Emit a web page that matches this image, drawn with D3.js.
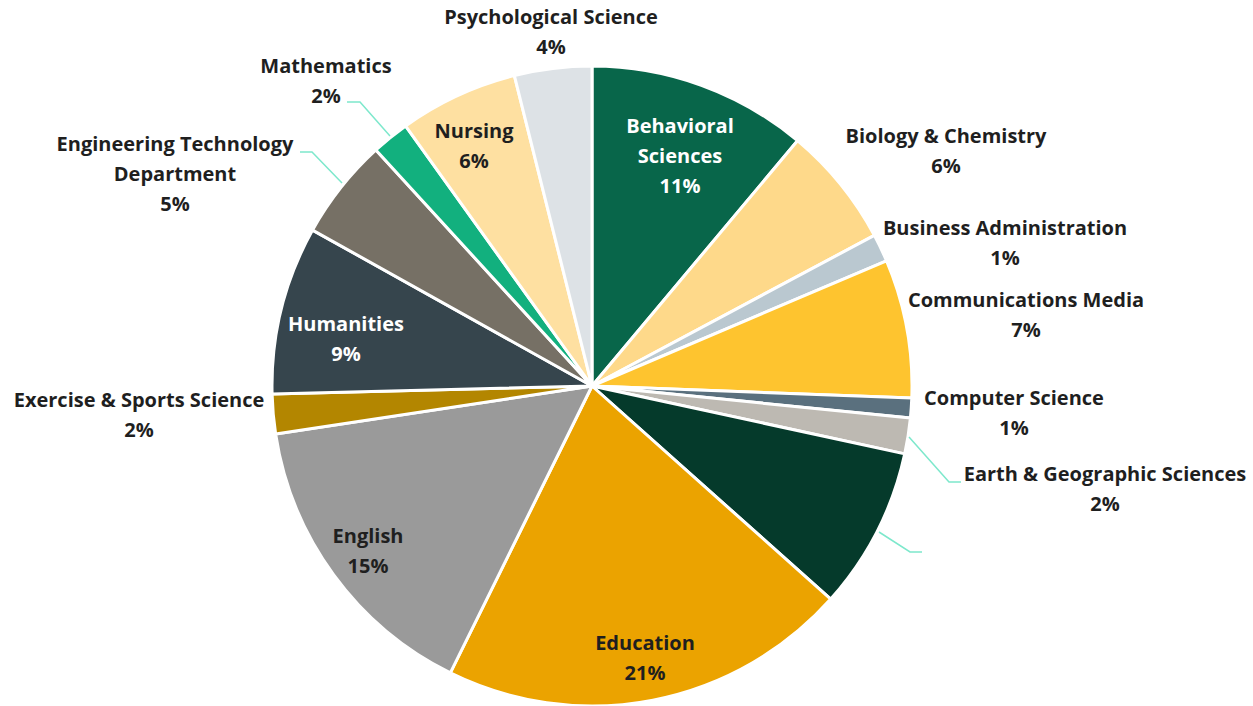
<!DOCTYPE html>
<html>
<head>
<meta charset="utf-8">
<script src="https://cdn.jsdelivr.net/npm/d3@7"></script>
<style>
  html, body { margin: 0; padding: 0; background: #fff; }
  svg text { font-family: "Open Sans", Lato, sans-serif; font-weight: 700; font-size: 20px; }
</style>
</head>
<body>
<div id="chart"></div>
<script>
var width = 1253,
  height = 706;

// departments, clockwise from 12 o'clock
var departments = ["Behavioral Sciences", "Biology & Chemistry", "Business Administration",
  "Communications Media", "Computer Science", "Earth & Geographic Sciences", "",
  "Education", "English", "Exercise & Sports Science", "Humanities",
  "Engineering Technology Department", "Mathematics", "Nursing", "Psychological Science"];
var shares = [11.1, 6.1, 1.4, 7.0, 1.0, 1.8, 8.2, 20.7, 15.3, 2.0, 8.5, 5.1, 1.9, 6.0, 3.9];
var colors = ["#08664a", "#fed98a", "#bac8d0", "#fec42f", "#5a707e", "#bdb9b2", "#053a2b",
  "#eba300", "#9a9a9a", "#b38600", "#36454d", "#767065", "#12b07e", "#fee0a1", "#dde2e6"];

// label layout: text lines, centre x, first line y, inside (white) or not
var labelLayout = [
  { lines: ["Behavioral", "Sciences"], x: 680, y: 126, fill: "#fff" },
  { lines: ["Biology & Chemistry"], x: 946, y: 136 },
  { lines: ["Business Administration"], x: 1005, y: 228 },
  { lines: ["Communications Media"], x: 1026, y: 300 },
  { lines: ["Computer Science"], x: 1014, y: 398 },
  { lines: ["Earth & Geographic Sciences"], x: 1105, y: 474, leader: [[909, 437], [949, 482], [961, 482]] },
  { lines: [], x: 960, y: 555, leader: [[879, 532], [910, 552], [922, 552]], hidden: true },
  { lines: ["Education"], x: 645, y: 643 },
  { lines: ["English"], x: 368, y: 536 },
  { lines: ["Exercise & Sports Science"], x: 139, y: 400 },
  { lines: ["Humanities"], x: 346, y: 324, fill: "#fff" },
  { lines: ["Engineering Technology", "Department"], x: 175, y: 144, leader: [[300, 152], [312, 152], [342, 183]] },
  { lines: ["Mathematics"], x: 326, y: 66, leader: [[347, 102], [360, 102], [390, 136]] },
  { lines: ["Nursing"], x: 474, y: 131 },
  { lines: ["Psychological Science"], x: 551, y: 17 }
];

var cx = 592, cy = 386, radius = 320;

var svg = d3.select("#chart")
  .append("svg")
  .attr("width", width)
  .attr("height", height);

var pie = d3.pie()
  .sort(null)
  .value(function (d) { return d; });

var arc = d3.arc()
  .innerRadius(0)
  .outerRadius(radius);

var arcs = pie(shares);

var g = svg.append("g")
  .attr("transform", "translate(" + cx + "," + cy + ")");

g.selectAll("path")
  .data(arcs)
  .enter().append("path")
  .attr("d", arc)
  .attr("fill", function (d, i) { return colors[i]; })
  .attr("stroke", "#fff")
  .attr("stroke-width", 3)
  .attr("stroke-linejoin", "round");

// leader lines
var line = d3.line();
svg.selectAll("path.leader")
  .data(labelLayout.filter(function (d) { return d.leader; }))
  .enter().append("path")
  .attr("class", "leader")
  .attr("d", function (d) { return line(d.leader); })
  .attr("fill", "none")
  .attr("stroke", "#7de8cc")
  .attr("stroke-width", 1.5);

// labels
labelLayout.forEach(function (l, i) {
  if (l.hidden) return;
  var pct = Math.round(shares[i]) + "%";
  var t = svg.append("text")
    .attr("text-anchor", "middle")
    .attr("fill", l.fill || "#1f1f1f");
  l.lines.concat([pct]).forEach(function (s, k) {
    t.append("tspan")
      .attr("x", l.x)
      .attr("y", l.y + k * 30)
      .attr("dy", "0.35em")
      .text(s);
  });
});
</script>
</body>
</html>
